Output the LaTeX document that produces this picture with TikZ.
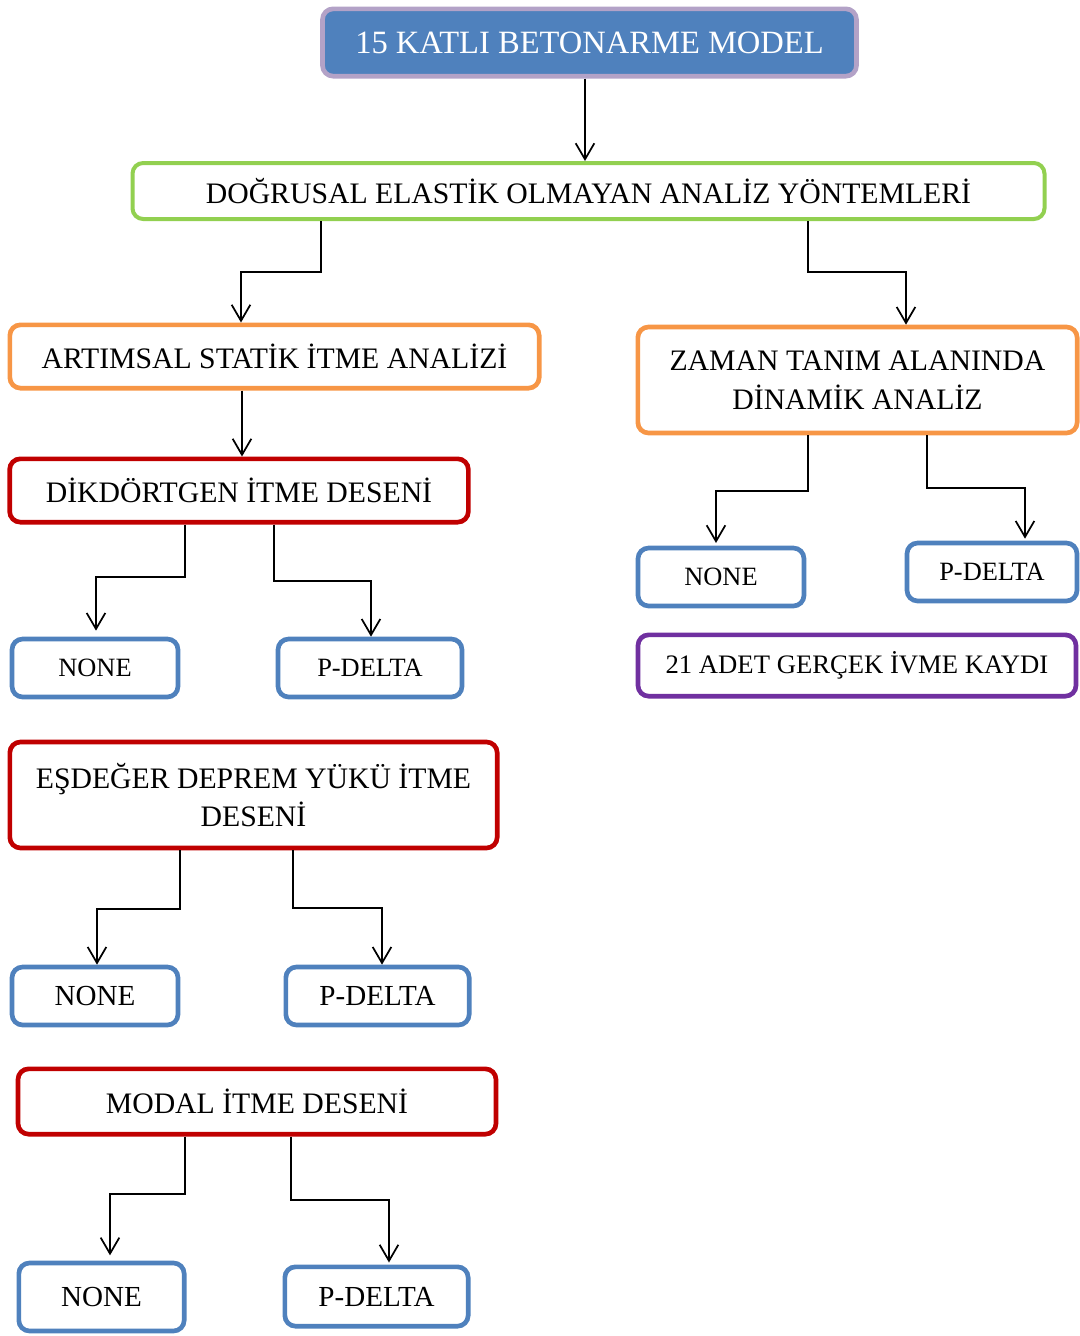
\documentclass[tikz,border=0pt]{standalone}
\usepackage{fontspec}
\setmainfont{Liberation Serif}
\usetikzlibrary{arrows.meta}
\definecolor{cblue}{HTML}{4F81BD}
\definecolor{clilac}{HTML}{B3A2C7}
\definecolor{cgreen}{HTML}{92D050}
\definecolor{corange}{HTML}{F79646}
\definecolor{cred}{HTML}{C00000}
\definecolor{cpurple}{HTML}{7030A0}
\tikzset{
  box/.style={rounded corners=8pt, line width=3.5pt, fill=white, inner sep=0pt, align=center, text=black},
  fbig/.style={font=\fontsize{22.3}{29}\selectfont},
  fsmall/.style={font=\fontsize{19.8}{24}\selectfont},
  fmid/.style={font=\fontsize{21.8}{26}\selectfont},
  arr/.style={line width=1.3pt, -{Straight Barb[length=12pt,width=14pt,line width=1.3pt]}},
}
\begin{document}
\begin{tikzpicture}[x=0.75pt,y=-0.75pt]
\useasboundingbox (0,0) rectangle (1079,1336);
% nodes
\node[box, draw=clilac, fill=cblue, text=white, font=\fontsize{24.4}{29}\selectfont, minimum width=400.5pt, minimum height=50.5pt] (top) at (589.5,42.5) {15 KATLI BETONARME MODEL};
\node[box, fbig, draw=cgreen, minimum width=684pt, minimum height=42pt, line width=3pt] (dog) at (588.5,191) {DOĞRUSAL ELASTİK OLMAYAN ANALİZ YÖNTEMLERİ};
\node[box, fbig, draw=corange, minimum width=397pt, minimum height=47.5pt] (art) at (274.5,356.5) {ARTIMSAL STATİK İTME ANALİZİ};
\node[box, fbig, draw=corange, minimum width=329.5pt, minimum height=79.5pt] (zam) at (857.5,380) {ZAMAN TANIM ALANINDA\\DİNAMİK ANALİZ};
\node[box, fbig, draw=cred, minimum width=344pt, minimum height=47.5pt] (dik) at (239,490.5) {DİKDÖRTGEN İTME DESENİ};
\node[box, fsmall, draw=cblue, minimum width=124.5pt, minimum height=43.5pt] (n1) at (95,668) {NONE};
\node[box, fsmall, draw=cblue, minimum width=138pt, minimum height=43.5pt] (p1) at (370,668) {P-DELTA};
\node[box, fsmall, draw=cblue, minimum width=124.5pt, minimum height=43.5pt] (n2) at (721,577) {NONE};
\node[box, fsmall, draw=cblue, minimum width=127.5pt, minimum height=43.5pt] (p2) at (992,572) {P-DELTA};
\node[box, font=\fontsize{20}{24}\selectfont, draw=cpurple, minimum width=328.5pt, minimum height=46pt] (adet) at (857,665.5) {21 ADET GERÇEK İVME KAYDI};
\node[box, fbig, draw=cred, minimum width=365.5pt, minimum height=79.5pt] (esd) at (253.5,795) {EŞDEĞER DEPREM YÜKÜ İTME\\DESENİ};
\node[box, fmid, draw=cblue, minimum width=124.5pt, minimum height=43.5pt] (n3) at (95,996) {NONE};
\node[box, fmid, draw=cblue, minimum width=137.5pt, minimum height=43.5pt] (p3) at (377.5,996) {P-DELTA};
\node[box, fbig, draw=cred, minimum width=358.5pt, minimum height=49pt] (mod) at (257,1101.5) {MODAL İTME DESENİ};
\node[box, fmid, draw=cblue, minimum width=124pt, minimum height=51pt] (n4) at (101.5,1297) {NONE};
\node[box, fmid, draw=cblue, minimum width=137.5pt, minimum height=44.5pt] (p4) at (376.5,1296.5) {P-DELTA};
% elbow coordinates
\coordinate (a1) at (321,272); \coordinate (b1) at (241,272);
\coordinate (a2) at (808,272); \coordinate (b2) at (906,272);
\coordinate (a3) at (185,577); \coordinate (b3) at (96,577);
\coordinate (a4) at (274,581); \coordinate (b4) at (371,581);
\coordinate (a5) at (808,491); \coordinate (b5) at (716,491);
\coordinate (a6) at (927,488); \coordinate (b6) at (1025,488);
\coordinate (a7) at (180,909); \coordinate (b7) at (97,909);
\coordinate (a8) at (293,908); \coordinate (b8) at (382,908);
\coordinate (a9) at (185,1194); \coordinate (b9) at (110,1194);
\coordinate (a10) at (291,1200); \coordinate (b10) at (389,1200);
\coordinate (c0) at (585,100); \coordinate (c1) at (242,420);
% connectors
\draw[arr] (top.south -| c0) -- (dog.north -| c0);
\draw[arr] (dog.south -| a1) -- (a1) -- (b1) -- (art.north -| b1);
\draw[arr] (dog.south -| a2) -- (a2) -- (b2) -- (zam.north -| b2);
\draw[arr] (art.south -| c1) -- (dik.north -| c1);
\draw[arr, shorten >=4.5pt] (dik.south -| a3) -- (a3) -- (b3) -- (n1.north -| b3);
\draw[arr] (dik.south -| a4) -- (a4) -- (b4) -- (p1.north -| b4);
\draw[arr, shorten >=2pt] (zam.south -| a5) -- (a5) -- (b5) -- (n2.north -| b5);
\draw[arr, shorten >=1.5pt] (zam.south -| a6) -- (a6) -- (b6) -- (p2.north -| b6);
\draw[arr] (esd.south -| a7) -- (a7) -- (b7) -- (n3.north -| b7);
\draw[arr] (esd.south -| a8) -- (a8) -- (b8) -- (p3.north -| b8);
\draw[arr, shorten >=4pt] (mod.south -| a9) -- (a9) -- (b9) -- (n4.north -| b9);
\draw[arr, shorten >=1.5pt] (mod.south -| a10) -- (a10) -- (b10) -- (p4.north -| b10);
\end{tikzpicture}
\end{document}
